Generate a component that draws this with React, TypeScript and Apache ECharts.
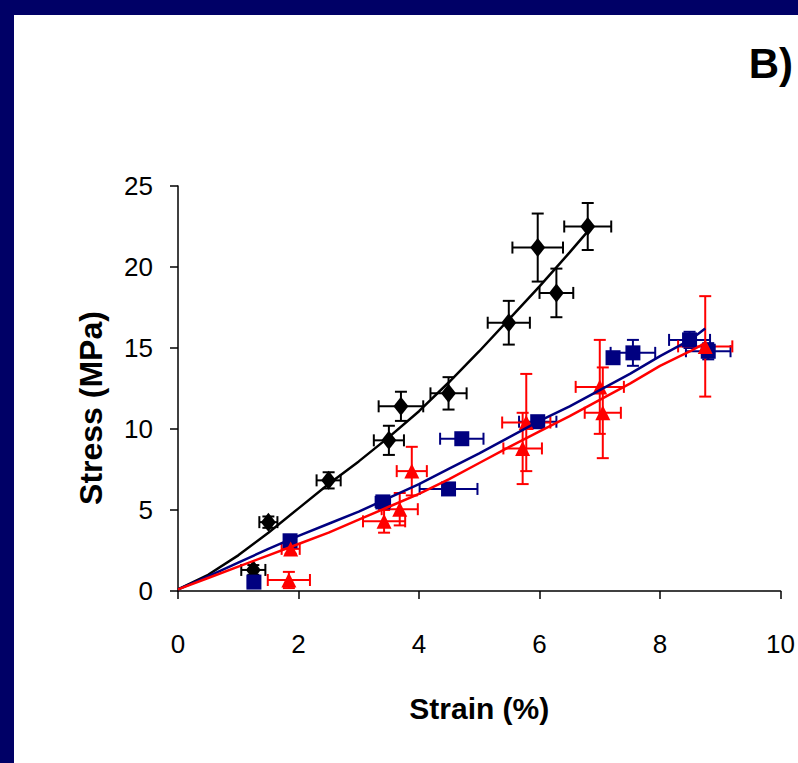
import React, { useEffect, useRef } from "react";
import * as echarts from "echarts";

// ---- Data ----
const xTicks = [0, 2, 4, 6, 8, 10];
const yTicks = [0, 5, 10, 15, 20, 25];

// Black diamonds
const blackX = [1.25, 1.5, 2.5, 3.5, 3.7, 4.49, 5.49, 5.97, 6.28, 6.8];
const blackY = [1.3, 4.25, 6.83, 9.3, 11.4, 12.2, 16.56, 21.2, 18.4, 22.5];
const blackXErr = [0.2, 0.15, 0.2, 0.25, 0.37, 0.3, 0.35, 0.42, 0.28, 0.39];
const blackYErr = [0.3, 0.35, 0.5, 0.9, 0.9, 1.0, 1.35, 2.1, 1.5, 1.45];

// Blue squares
const blueX = [1.26, 1.86, 3.4, 4.49, 4.71, 5.97, 7.22, 7.55, 8.49, 8.8];
const blueY = [0.55, 3.1, 5.5, 6.3, 9.4, 10.45, 14.4, 14.7, 15.5, 14.8];
const blueXErr = [0.1, 0.1, 0.12, 0.48, 0.36, 0.31, 0.1, 0.37, 0.34, 0.37];
const blueYErr = [0.2, 0.2, 0.2, 0.2, 0.2, 0.3, 0.3, 0.8, 0.5, 0.5];

// Red triangles
const redX = [1.84, 1.87, 3.42, 3.68, 3.88, 5.78, 5.72, 7.0, 7.05, 8.75];
const redY = [0.68, 2.6, 4.3, 5.05, 7.4, 10.4, 8.8, 12.6, 11.0, 15.1];
const redXErr = [0.35, 0.15, 0.35, 0.3, 0.25, 0.4, 0.32, 0.4, 0.3, 0.45];
const redYErr = [0.5, 0.3, 0.7, 1.0, 1.5, 3.0, 2.2, 2.9, 2.8, 3.1];

// Measured curves
const blackLineX = [0, 0.5, 1, 1.5, 2, 2.5, 3, 3.5, 4, 4.5, 5, 5.5, 6, 6.5, 6.8];
const blackLineY = [0.1, 1.0, 2.2, 3.6, 5.1, 6.6, 8.0, 9.5, 11.1, 12.9, 14.8, 16.8, 18.8, 20.9, 22.2];
const blueLineX = [0, 0.5, 1, 1.5, 2, 2.5, 3, 3.5, 4, 4.5, 5, 5.5, 6, 6.5, 7, 7.5, 8, 8.5, 8.75];
const blueLineY = [0.1, 0.9, 1.75, 2.6, 3.4, 4.15, 4.9, 5.75, 6.6, 7.55, 8.5, 9.5, 10.5, 11.4, 12.4, 13.4, 14.5, 15.5, 16.2];
const redLineX = [0, 0.5, 1, 1.5, 2, 2.5, 3, 3.5, 4, 4.5, 5, 5.5, 6, 6.5, 7, 7.5, 8, 8.5, 8.75];
const redLineY = [0.1, 0.8, 1.5, 2.2, 2.9, 3.6, 4.4, 5.2, 6.0, 6.9, 7.9, 8.9, 9.85, 10.8, 11.8, 12.8, 13.9, 14.8, 15.3];

const BLACK = "#000000";
const BLUE = "#000080";
const RED = "#ff0000";
const FONT = "'Liberation Sans', Arial, sans-serif";

function zip(...arrs: number[][]) {
  return arrs[0].map((_, i) => arrs.map((a) => a[i]));
}

function errRender(color: string) {
  return (params: any, api: any) => {
    const x = api.value(0);
    const y = api.value(1);
    const ex = api.value(2);
    const ey = api.value(3);
    const l = api.coord([x - ex, y]);
    const r = api.coord([x + ex, y]);
    const t = api.coord([x, y + ey]);
    const b = api.coord([x, y - ey]);
    const cap = 6;
    const style = { stroke: color, lineWidth: 2 };
    const mk = (x1: number, y1: number, x2: number, y2: number) => ({
      type: "line",
      shape: { x1, y1, x2, y2 },
      style,
    });
    const children = [
      mk(l[0], l[1], r[0], r[1]),
      mk(l[0], l[1] - cap, l[0], l[1] + cap),
      mk(r[0], r[1] - cap, r[0], r[1] + cap),
      mk(t[0], t[1], b[0], b[1]),
      mk(t[0] - cap, t[1], t[0] + cap, t[1]),
      mk(b[0] - cap, b[1], b[0] + cap, b[1]),
    ];
    return { type: "group", children };
  };
}

export default function App() {
  const ref = useRef<HTMLDivElement>(null);
  useEffect(() => {
    document.body.style.margin = "0";
    const chart = echarts.init(ref.current!, undefined, { renderer: "svg" });
    const errSeries = (name: string, xs: number[], ys: number[], exs: number[], eys: number[], color: string) => ({
      type: "custom",
      name: name + " err",
      renderItem: errRender(color),
      data: zip(xs, ys, exs, eys),
      encode: { x: 0, y: 1 },
      z: 2,
      clip: false,
    });
    const markSeries = (name: string, xs: number[], ys: number[], symbol: string, size: any, color: string) => ({
      type: "scatter",
      name,
      data: zip(xs, ys),
      symbol,
      symbolSize: size,
      itemStyle: { color, opacity: 1 },
      z: 3,
    });
    const lineSeries = (name: string, xs: number[], ys: number[], color: string) => ({
      type: "line",
      name: name + " fit",
      data: zip(xs, ys),
      showSymbol: false,
      symbol: "none",
      lineStyle: { color, width: 2.5 },
      z: 4,
    });
    chart.setOption({
      animation: false,
      backgroundColor: "transparent",
      grid: { left: 178, right: 17, top: 186, bottom: 172, containLabel: false },
      xAxis: {
        type: "value",
        min: xTicks[0],
        max: xTicks[xTicks.length - 1],
        interval: 2,
        name: "Strain (%)",
        nameLocation: "middle",
        nameGap: 102,
        nameTextStyle: { fontFamily: FONT, fontSize: 30, fontWeight: "bold", color: "#000" },
        axisLine: { lineStyle: { color: "#000", width: 1.5 } },
        axisTick: { show: true, inside: false, length: 8, lineStyle: { color: "#000", width: 1.5 } },
        axisLabel: { fontFamily: FONT, fontSize: 26, color: "#000", margin: 40 },
        splitLine: { show: false },
      },
      yAxis: {
        type: "value",
        min: yTicks[0],
        max: yTicks[yTicks.length - 1],
        interval: 5,
        axisLine: { lineStyle: { color: "#000", width: 1.5 } },
        axisTick: { show: true, inside: false, length: 8, lineStyle: { color: "#000", width: 1.5 } },
        axisLabel: { fontFamily: FONT, fontSize: 26, color: "#000", margin: 25 },
        splitLine: { show: false },
      },
      graphic: [
        {
          type: "text",
          x: 793,
          y: 63,
          style: {
            text: "B)",
            font: `bold 42px ${FONT}`,
            fill: "#000",
            align: "right",
            verticalAlign: "middle",
          },
        },
        {
          type: "text",
          x: 91,
          y: 408,
          rotation: Math.PI / 2,
          style: {
            text: "Stress (MPa)",
            font: `bold 32px ${FONT}`,
            fill: "#000",
            align: "center",
            verticalAlign: "middle",
          },
        },
      ],
      series: [
        errSeries("Black", blackX, blackY, blackXErr, blackYErr, BLACK),
        errSeries("Blue", blueX, blueY, blueXErr, blueYErr, BLUE),
        errSeries("Red", redX, redY, redXErr, redYErr, RED),
        markSeries("Black", blackX, blackY, "diamond", [15, 19], BLACK),
        markSeries("Blue", blueX, blueY, "rect", 15, BLUE),
        markSeries("Red", redX, redY, "triangle", 15, RED),
        lineSeries("Black", blackLineX, blackLineY, BLACK),
        lineSeries("Blue", blueLineX, blueLineY, BLUE),
        lineSeries("Red", redLineX, redLineY, RED),
      ],
    });
    return () => chart.dispose();
  }, []);
  return (
    <div style={{ position: "relative", width: 798, height: 763, background: "#000066", overflow: "hidden" }}>
      <div style={{ position: "absolute", left: 14, top: 15, right: 0, bottom: 0, background: "#ffffff" }} />
      <div ref={ref} style={{ position: "absolute", left: 0, top: 0, width: 798, height: 763 }} />
    </div>
  );
}
